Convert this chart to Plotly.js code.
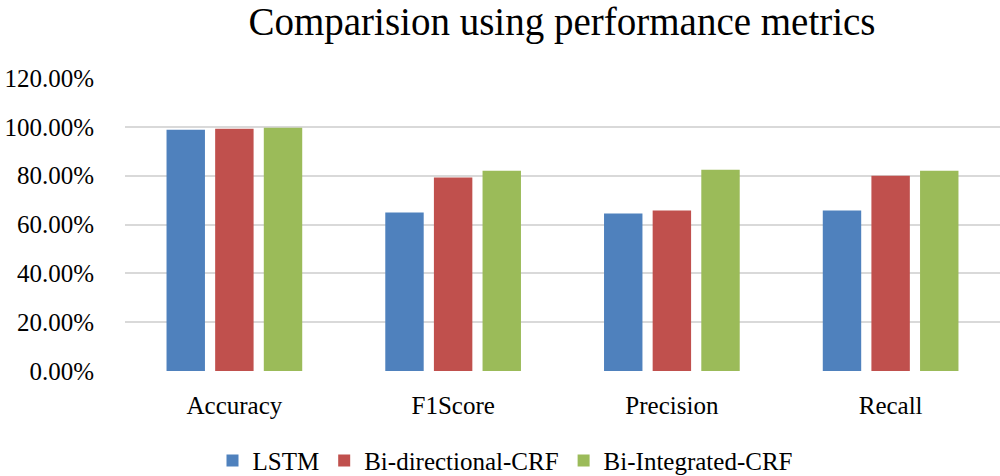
<!DOCTYPE html>
<html>
<head>
<meta charset="utf-8">
<script src="https://cdn.plot.ly/plotly-3.0.1.min.js"></script>
<style>html,body{margin:0;padding:0;background:#fff;}#chart{width:1000px;height:476px;}</style>
</head>
<body>
<div id="chart"></div>
<script>
var categories = ["Accuracy", "F1Score", "Precision", "Recall"];
var seriesNames = ["LSTM", "Bi-directional-CRF", "Bi-Integrated-CRF"];
var lstm = [0.988, 0.649, 0.645, 0.657];
var biDirectional = [0.992, 0.792, 0.657, 0.800];
var biIntegrated = [0.996, 0.820, 0.824, 0.820];
var tickVals = [0, 0.2, 0.4, 0.6, 0.8, 1.0, 1.2];
var tickText = ["0.00%", "20.00%", "40.00%", "60.00%", "80.00%", "100.00%", "120.00%"];
var colors = ["#4f81bd", "#c0504d", "#9bbb59"];

var font = "Liberation Serif";
var values = [lstm, biDirectional, biIntegrated];
var traces = values.map(function (v, i) {
  return {
    type: "bar",
    name: seriesNames[i],
    x: categories,
    y: v,
    marker: { color: colors[i] },
    hovertemplate: "%{x}: %{y:.2%}<extra>" + seriesNames[i] + "</extra>"
  };
});

var layout = {
  width: 1000,
  height: 476,
  margin: { l: 125, r: 0, t: 78, b: 105, autoexpand: false },
  paper_bgcolor: "#ffffff",
  plot_bgcolor: "#ffffff",
  font: { family: font, color: "#000000", size: 25 },
  title: {
    text: "Comparision using performance metrics",
    font: { family: font, size: 39, color: "#000000" },
    x: 0.562, xanchor: "center",
    y: 0.955, yanchor: "middle"
  },
  barmode: "group",
  bargap: 0.333,
  bargroupgap: 0.21,
  xaxis: {
    type: "category",
    showgrid: false,
    showline: false,
    zeroline: false,
    ticks: "outside",
    ticklen: 12,
    tickcolor: "rgba(0,0,0,0)",
    tickfont: { family: font, size: 25, color: "#000000" }
  },
  yaxis: {
    range: [0, 1.2],
    tickvals: tickVals,
    ticktext: tickText,
    showgrid: true,
    gridcolor: "#d9d9d9",
    gridwidth: 2,
    zeroline: false,
    showline: false,
    ticks: "",
    ticklabelstandoff: 30,
    tickfont: { family: font, size: 25, color: "#000000" }
  },
  showlegend: true,
  legend: {
    orientation: "h",
    xref: "container",
    x: 0.505, xanchor: "center",
    yref: "container",
    y: 0.032, yanchor: "middle",
    font: { family: font, size: 25, color: "#000000" },
    itemwidth: 30,
    traceorder: "normal"
  }
};

Plotly.newPlot("chart", traces, layout, { displayModeBar: false, staticPlot: true });
</script>
</body>
</html>
